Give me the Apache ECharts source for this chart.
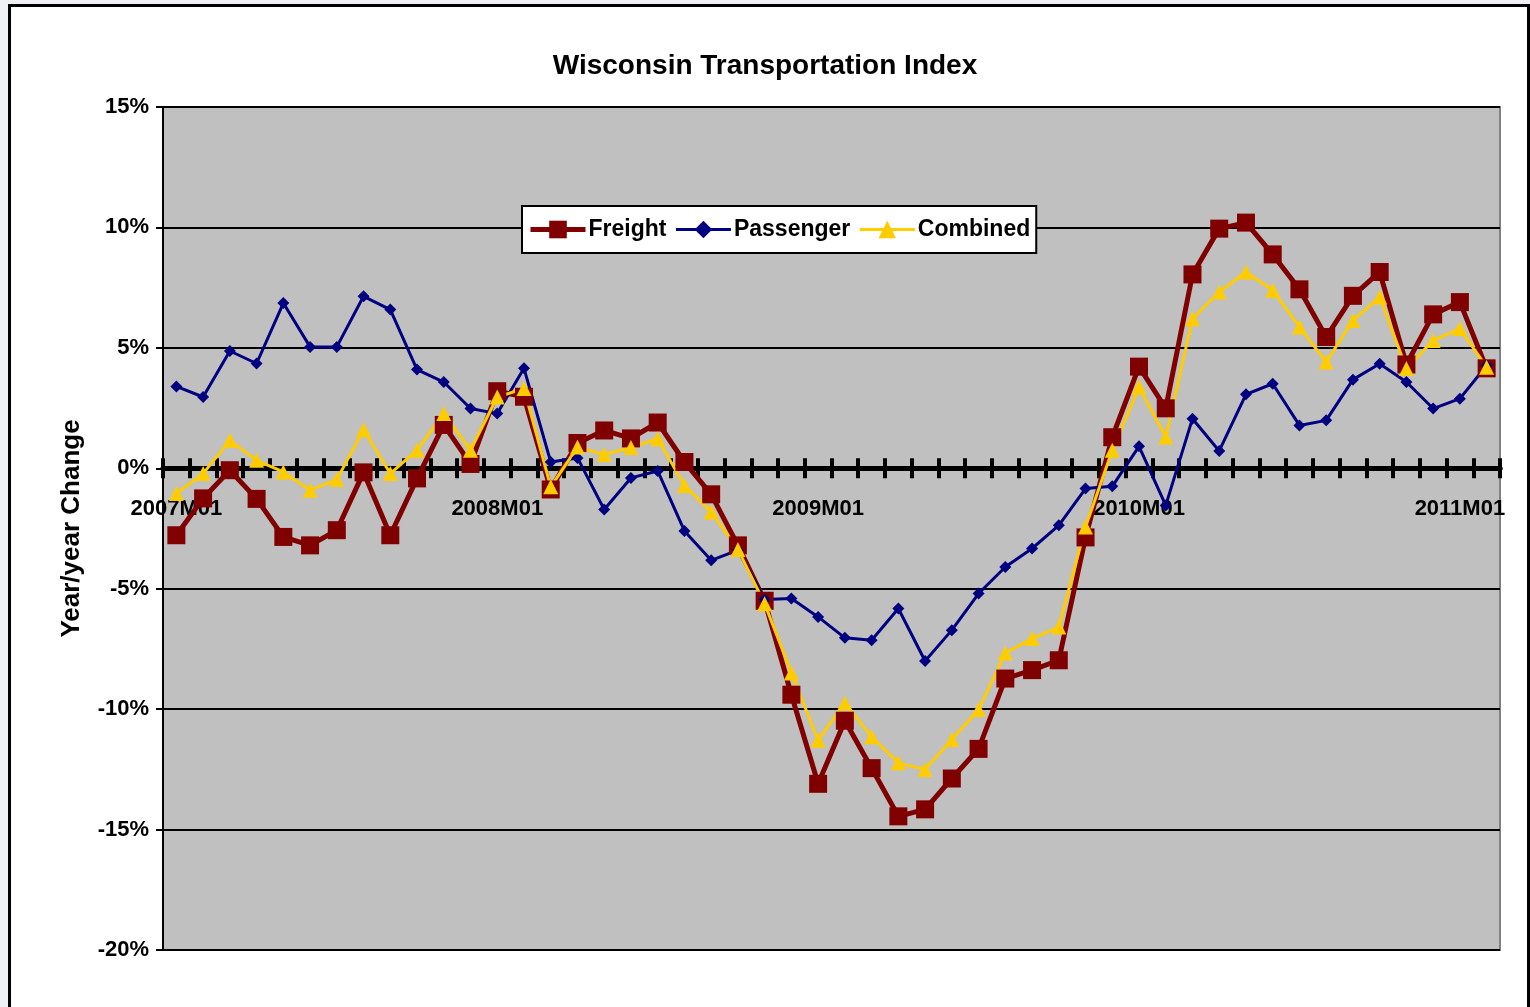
<!DOCTYPE html>
<html>
<head>
<meta charset="utf-8">
<title>Wisconsin Transportation Index</title>
<script src="https://cdn.jsdelivr.net/npm/echarts@6/dist/echarts.min.js"></script>
<style>
  html, body { margin: 0; padding: 0; background: #eef0f4; overflow: hidden; }
  #frame { position: absolute; left: 8px; top: 4px; width: 1516px; height: 1100px; border: 3px solid #000; background: #fff; }
  #main { position: absolute; left: 0; top: 0; width: 1530px; height: 1007px; }
</style>
</head>
<body>
<div id="frame"></div>
<div id="main"></div>
<script>
  // months, 2007M01 .. 2011M02
  var months = [
    '2007M01','2007M02','2007M03','2007M04','2007M05','2007M06','2007M07','2007M08','2007M09','2007M10','2007M11','2007M12',
    '2008M01','2008M02','2008M03','2008M04','2008M05','2008M06','2008M07','2008M08','2008M09','2008M10','2008M11','2008M12',
    '2009M01','2009M02','2009M03','2009M04','2009M05','2009M06','2009M07','2009M08','2009M09','2009M10','2009M11','2009M12',
    '2010M01','2010M02','2010M03','2010M04','2010M05','2010M06','2010M07','2010M08','2010M09','2010M10','2010M11','2010M12',
    '2011M01','2011M02'
  ];

  // year/year change in %
  var freight = [
    -2.78, -1.25, -0.08, -1.27, -2.85, -3.2, -2.57, -0.17, -2.78, -0.42, 1.8, 0.18,
    3.2, 2.97, -0.88, 1.05, 1.57, 1.24, 1.9, 0.26, -1.08, -3.2, -5.5, -9.4,
    -13.1, -10.48, -12.45, -14.45, -14.16, -12.88, -11.65, -8.73, -8.38, -7.97, -2.87, 1.29,
    4.22, 2.49, 8.05, 9.95, 10.2, 8.88, 7.43, 5.45, 7.16, 8.15, 4.31, 6.39,
    6.9, 4.15
  ];
  var passenger = [
    3.4, 2.96, 4.87, 4.35, 6.86, 5.04, 5.04, 7.14, 6.59, 4.1, 3.58, 2.48,
    2.27, 4.15, 0.26, 0.43, -1.71, -0.4, -0.11, -2.6, -3.82, -3.4, -5.45, -5.41,
    -6.17, -7.04, -7.14, -5.82, -8.0, -6.72, -5.2, -4.1, -3.33, -2.37, -0.84, -0.75,
    0.91, -1.54, 2.06, 0.72, 3.07, 3.51, 1.78, 1.99, 3.68, 4.34, 3.58, 2.48,
    2.89, 4.27
  ];
  var combined = [
    -1.05, -0.22, 1.16, 0.33, -0.15, -0.91, -0.47, 1.6, -0.22, 0.75, 2.27, 0.75,
    2.96, 3.31, -0.77, 0.88, 0.57, 0.86, 1.23, -0.71, -1.81, -3.37, -5.62, -8.5,
    -11.29, -9.74, -11.15, -12.23, -12.51, -11.26, -10.02, -7.67, -7.07, -6.59, -2.44, 0.75,
    3.37, 1.3, 6.21, 7.32, 8.15, 7.39, 5.87, 4.41, 6.14, 7.11, 4.14, 5.31,
    5.8, 4.2
  ];

  var font = "'Liberation Sans', Arial, sans-serif";
  var chart = echarts.init(document.getElementById('main'));

  var option = {
    animation: false,
    backgroundColor: 'transparent',
    title: {
      text: 'Wisconsin Transportation Index',
      left: 'center',
      top: 52,
      padding: 0,
      textStyle: { fontFamily: font, fontSize: 28, fontWeight: 'bold', color: '#000' }
    },
    legend: {
      left: 522,
      top: 206,
      padding: [12, 6],
      itemGap: 8,
      itemWidth: 55,
      itemHeight: 22,
      backgroundColor: '#fff',
      borderColor: '#000',
      borderWidth: 2,
      borderRadius: 0,
      textStyle: { fontFamily: font, fontSize: 23, fontWeight: 'bold', color: '#000', padding: [0, 0, 0, -2] },
      data: [
        { name: 'Freight', lineStyle: { width: 5 } },
        { name: 'Passenger', lineStyle: { width: 3 } },
        { name: 'Combined', lineStyle: { width: 3 } }
      ]
    },
    grid: {
      left: 163,
      right: 30,
      top: 107,
      bottom: 57,
      show: true,
      backgroundColor: '#c0c0c0',
      borderColor: '#808080',
      borderWidth: 2
    },
    xAxis: [
      {
        type: 'category',
        data: months,
        position: 'bottom',
        boundaryGap: true,
        axisLine: { onZero: true, onZeroAxisIndex: 0, lineStyle: { color: '#000', width: 5 } },
        axisTick: { show: true, interval: 0, length: 10, lineStyle: { color: '#000', width: 4 } },
        axisLabel: {
          interval: function (i) { return i % 12 === 0; },
          // labels stay at the grid edge, pull them up under the zero line
          margin: -452,
          fontFamily: font, fontSize: 22, fontWeight: 'bold', color: '#000'
        },
        splitLine: { show: false }
      },
      {
        // second axis only to draw the upper half of the ticks
        type: 'category',
        data: months,
        position: 'top',
        boundaryGap: true,
        axisLine: { onZero: true, onZeroAxisIndex: 1, lineStyle: { color: '#000', width: 5 } },
        axisTick: { show: true, interval: 0, length: 10, lineStyle: { color: '#000', width: 4 } },
        axisLabel: { show: false },
        splitLine: { show: false }
      }
    ],
    yAxis: [
      {
        type: 'value',
        min: -20,
        max: 15,
        interval: 5,
        name: 'Year/year Change',
        nameLocation: 'middle',
        nameGap: 78,
        nameRotate: 90,
        nameTextStyle: { fontFamily: font, fontSize: 26, fontWeight: 'bold', color: '#000' },
        axisLine: { show: true, onZero: false, lineStyle: { color: '#000', width: 2 } },
        axisTick: { show: true, length: 7, lineStyle: { color: '#000', width: 2 } },
        axisLabel: {
          formatter: '{value}%',
          margin: 14,
          fontFamily: font, fontSize: 22, fontWeight: 'bold', color: '#000'
        },
        splitLine: { show: true, lineStyle: { color: '#000', width: 2 } }
      },
      {
        // hidden twin, carries the second x axis at zero
        type: 'value',
        min: -20,
        max: 15,
        interval: 5,
        position: 'right',
        axisLine: { show: false, onZero: false },
        axisTick: { show: false },
        axisLabel: { show: false },
        splitLine: { show: false }
      }
    ],
    series: [
      {
        name: 'Freight',
        type: 'line',
        data: freight,
        showAllSymbol: true,
        symbol: 'rect',
        symbolSize: 18,
        lineStyle: { color: '#800000', width: 5 },
        itemStyle: { color: '#800000' }
      },
      {
        name: 'Passenger',
        type: 'line',
        data: passenger,
        showAllSymbol: true,
        symbol: 'diamond',
        symbolSize: 12,
        lineStyle: { color: '#000080', width: 3 },
        itemStyle: { color: '#000080' }
      },
      {
        name: 'Combined',
        type: 'line',
        data: combined,
        showAllSymbol: true,
        symbol: 'triangle',
        symbolSize: 15,
        lineStyle: { color: '#ffcc00', width: 3 },
        itemStyle: { color: '#ffcc00' }
      }
    ]
  };

  chart.setOption(option);
</script>
</body>
</html>
